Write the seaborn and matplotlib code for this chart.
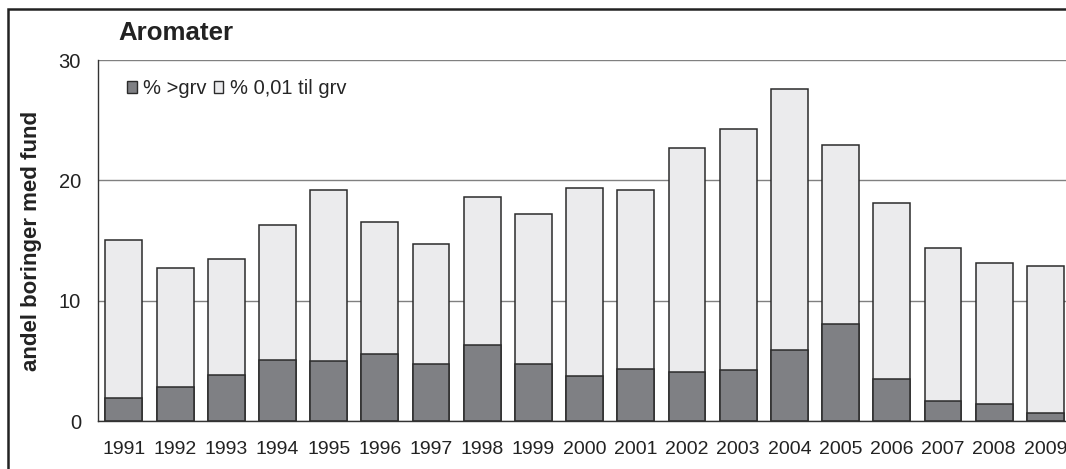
import numpy as np
import pandas as pd
import matplotlib
matplotlib.use("Agg")
import matplotlib.pyplot as plt
from matplotlib.patches import Patch, Rectangle
import seaborn as sns

# data
aar = ['1991', '1992', '1993', '1994', '1995', '1996', '1997', '1998', '1999', '2000',
       '2001', '2002', '2003', '2004', '2005', '2006', '2007', '2008', '2009']
over_grv = [1.9, 2.8, 3.8, 5.1, 5.0, 5.6, 4.7, 6.3, 4.7, 3.7,
            4.3, 4.1, 4.2, 5.9, 8.1, 3.5, 1.7, 1.4, 0.7]
til_grv = [13.1, 9.9, 9.7, 11.2, 14.2, 10.9, 10.0, 12.3, 12.5, 15.7,
           14.9, 18.6, 20.1, 21.7, 14.8, 14.6, 12.7, 11.7, 12.2]
serie_navne = ['% >grv', '% 0,01 til grv']
yticks = [0, 10, 20, 30]

df = pd.DataFrame({'aar': aar, 'over': over_grv, 'til': til_grv})
df['total'] = df['over'] + df['til']

mork = '#7f8084'
lys = '#ebebed'
kant = '#2b2b2b'

sns.set_style("white")
plt.rcParams['font.family'] = ['Liberation Sans', 'DejaVu Sans']

fig = plt.figure(figsize=(10.66, 4.69), dpi=100)
ax = fig.add_axes([98.3 / 1066, 48 / 469, 972.7 / 1066, 361 / 469])

# stacked: draw the total first, the lower part on top of it
sns.barplot(data=df, x='aar', y='total', color=lys, saturation=1, width=0.72,
            edgecolor=kant, linewidth=1.1, ax=ax)
sns.barplot(data=df, x='aar', y='over', color=mork, saturation=1, width=0.72,
            edgecolor=kant, linewidth=1.1, ax=ax)

ax.set_ylim(0, 30)
ax.set_xlim(-0.5, len(aar) - 0.5)
ax.set_yticks(yticks)
ax.yaxis.grid(True, color='#808080', lw=1)
ax.set_axisbelow(True)
for s in ['top', 'right']:
    ax.spines[s].set_visible(False)
for s in ['left', 'bottom']:
    ax.spines[s].set_color('#333333')
    ax.spines[s].set_linewidth(1)

ax.set_xticks(range(len(aar)))
ax.set_xticklabels(aar)
ax.set_xticks(np.arange(-0.5, len(aar), 1), minor=True)
ax.tick_params(axis='x', which='major', length=0, pad=14.5, labelsize=14, colors='#222222')
ax.tick_params(axis='x', which='minor', length=4, width=1, color='#333333')
ax.tick_params(axis='y', length=8, width=1, pad=4.5, labelsize=14.5, color='#333333', labelcolor='#222222')

ax.set_xlabel('')
ax.set_ylabel('andel boringer med fund', fontsize=16, fontweight='bold', color='#222222')
ax.yaxis.set_label_coords(-0.058, 0.50)

handles = [Patch(facecolor=mork, edgecolor=kant), Patch(facecolor=lys, edgecolor=kant)]
ax.legend(handles, serie_navne, ncol=2, loc='upper left', bbox_to_anchor=(0.0295, 0.947),
          frameon=False, borderpad=0, borderaxespad=0, handlelength=0.48, handleheight=0.48,
          handletextpad=0.32, columnspacing=0.35, fontsize=14.5)

fig.text(118 / 1066, 1 - 33 / 469, 'Aromater', fontsize=18.6, fontweight='bold',
         va='center', ha='left', color='#222222')

# frame around the whole chart (cut off on the right and bottom)
fig.patches.append(Rectangle((8 / 1066, -0.1), 1.2, 1.1 - 9 / 469, transform=fig.transFigure,
                             fill=False, edgecolor='#222222', lw=1.8, clip_on=False))

fig.savefig('out.png', dpi=100)
